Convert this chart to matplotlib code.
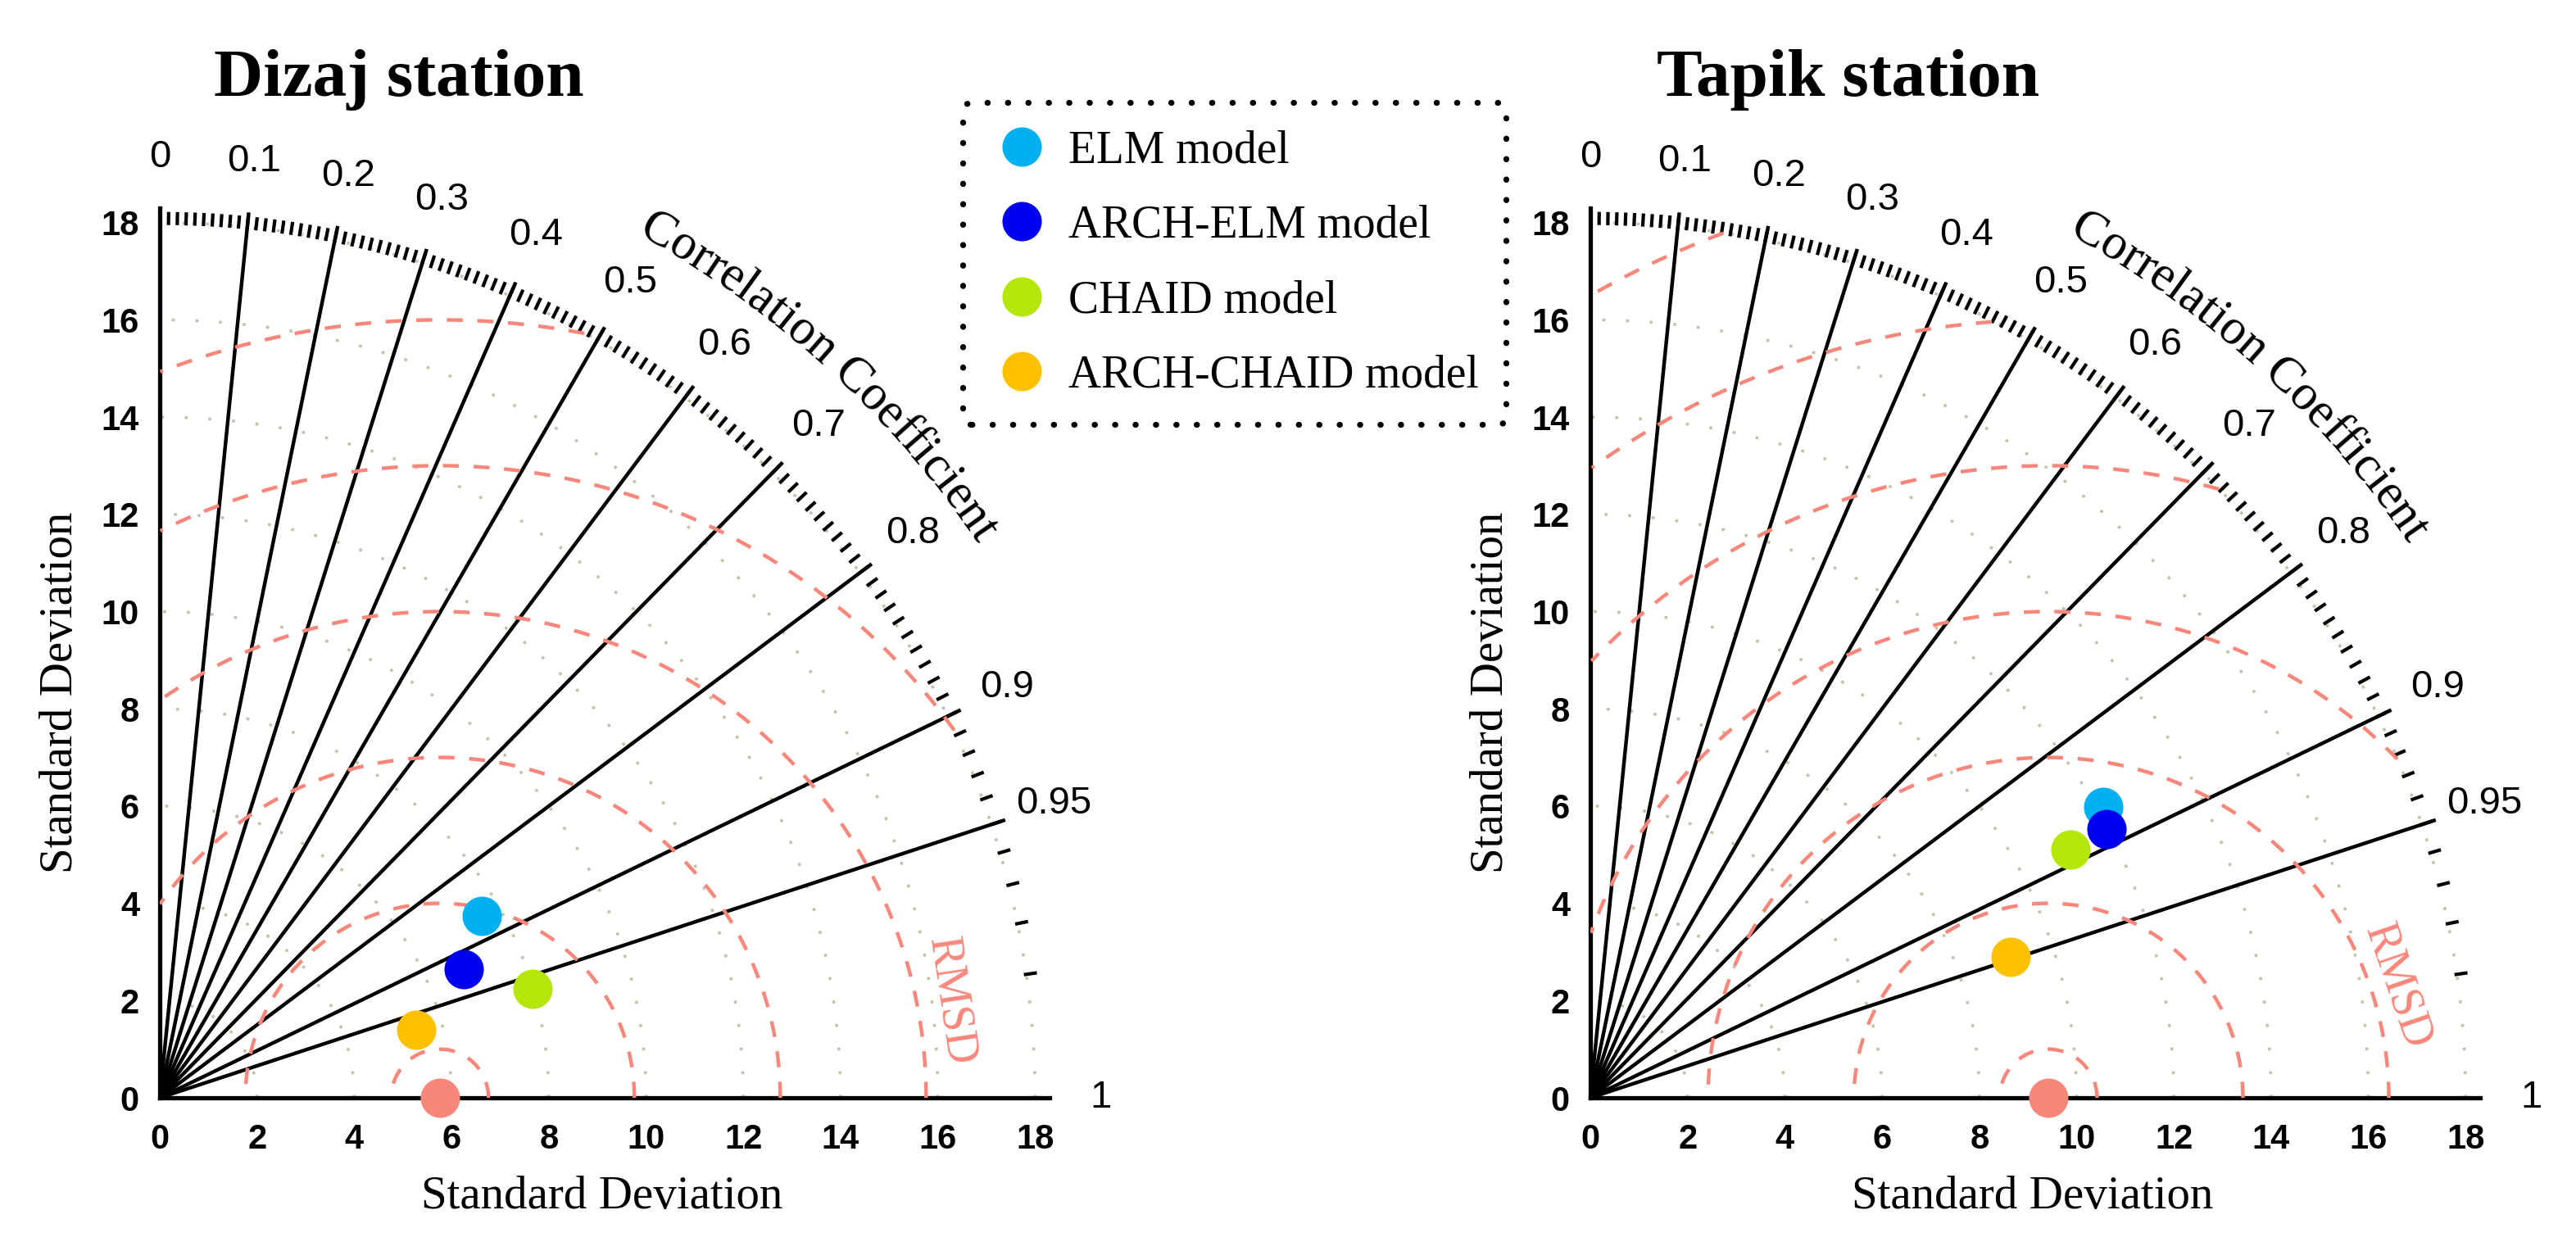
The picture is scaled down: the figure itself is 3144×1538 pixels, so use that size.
import numpy as np
import matplotlib.pyplot as plt
from matplotlib.lines import Line2D
from matplotlib.font_manager import FontProperties

plt.rcParams['font.family'] = 'Liberation Sans'

# values
models = ['ELM model', 'ARCH-ELM model', 'CHAID model', 'ARCH-CHAID model']
colors = ['#00b0f0', '#0000f0', '#b4e60a', '#ffc000']
ref_color = '#f8877b'
rmsd_color = '#f8877b'

dizaj_ref_std = 5.76
dizaj_std = [7.60, 6.78, 7.98, 5.46]
dizaj_corr = [0.871, 0.921, 0.960, 0.967]

tapik_ref_std = 9.42
tapik_std = [12.12, 11.97, 11.12, 9.11]
tapik_corr = [0.870, 0.887, 0.888, 0.948]

std_ticks = [0, 2, 4, 6, 8, 10, 12, 14, 16, 18]
corr_major = [0.1, 0.2, 0.3, 0.4, 0.5, 0.6, 0.7, 0.8, 0.9, 0.95]
corr_labels = ['0', '0.1', '0.2', '0.3', '0.4', '0.5', '0.6', '0.7', '0.8', '0.9', '0.95', '1']
corr_label_vals = [0, 0.1, 0.2, 0.3, 0.4, 0.5, 0.6, 0.7, 0.8, 0.9, 0.95, 1]
rmsd_levels = [1, 4, 7, 10, 13, 16, 19]
std_grid = [2, 4, 6, 8, 10, 12, 14, 16, 18]

W, H = 3144, 1538
unit = 59.35   # pixels per std unit
span = 20.0
rmax = 18.0

fig = plt.figure(figsize=(W / 100, H / 100), dpi=100)
renderer = fig.canvas.get_renderer()
serif = 'Liberation Serif'


def curved_text(ax, text, r, theta_start, size):
    fp = FontProperties(family=serif, size=size)
    for i, ch in enumerate(text):
        if ch == ' ':
            continue
        w_pre = renderer.get_text_width_height_descent(text[:i + 1], fp, ismath=False)[0]
        w_ch = renderer.get_text_width_height_descent(ch, fp, ismath=False)[0]
        s = (w_pre - w_ch / 2) / unit
        th = theta_start - s / r
        ax.text(r * np.cos(th), r * np.sin(th), ch, fontproperties=fp,
                rotation=np.degrees(th) - 90, rotation_mode='anchor',
                ha='center', va='baseline')


def taylor(ox, oy, ref_std, std, corr, title, title_x, rmsd_pos, rmsd_rot):
    ax = fig.add_axes([ox / W, (H - oy) / H, span * unit / W, span * unit / H])
    ax.set_xlim(0, span)
    ax.set_ylim(0, span)

    for s in ['top', 'right']:
        ax.spines[s].set_visible(False)
    for s in ['left', 'bottom']:
        ax.spines[s].set_bounds(0, 18.3)
        ax.spines[s].set_linewidth(3.8)
    ax.set_xticks(std_ticks)
    ax.set_yticks(std_ticks)
    ax.tick_params(length=0, labelsize=30)
    ax.tick_params(axis='x', pad=22)
    ax.tick_params(axis='y', pad=18)
    for lab in ax.get_xticklabels() + ax.get_yticklabels():
        lab.set_fontweight('bold')

    # grey std arcs
    t = np.linspace(0, np.pi / 2, 300)
    for r in std_grid:
        ax.plot(r * np.cos(t), r * np.sin(t), color='#c6c1ab', lw=2.6,
                linestyle=(0, (1, 7)), zorder=1)

    # radial correlation lines
    for c in corr_major:
        th = np.arccos(c)
        ax.plot([0, 18.3 * np.cos(th)], [0, 18.3 * np.sin(th)], color='black',
                lw=3.2, zorder=2, solid_capstyle='butt')

    # minor correlation ticks forming the outer arc
    for k in range(1, 100):
        th = np.arccos(k / 100)
        ax.plot([17.95 * np.cos(th), 18.22 * np.cos(th)],
                [17.95 * np.sin(th), 18.22 * np.sin(th)], color='black',
                lw=3.0, zorder=2, solid_capstyle='butt', clip_on=False)

    # correlation labels
    for lab, c in zip(corr_labels, corr_label_vals):
        th = np.arccos(c)
        ax.text(19.35 * np.cos(th), 19.35 * np.sin(th), lab, fontsize=34,
                ha='center', va='center')

    # RMSD arcs around the reference point
    phi = np.linspace(0, np.pi, 800)
    for rr in rmsd_levels:
        x = ref_std + rr * np.cos(phi)
        y = rr * np.sin(phi)
        keep = (x >= 0) & (np.hypot(x, y) <= rmax)
        x = np.where(keep, x, np.nan)
        y = np.where(keep, y, np.nan)
        ax.plot(x, y, color=rmsd_color, lw=3.2, linestyle=(0, (4.4, 4.0)),
                zorder=3, solid_capstyle='butt')
    ax.text(rmsd_pos[0], rmsd_pos[1], 'RMSD', color=rmsd_color, family=serif,
            fontsize=40, rotation=rmsd_rot, ha='center', va='center')

    # models and reference
    for s, c, col in zip(std, corr, colors):
        th = np.arccos(c)
        ax.plot(s * np.cos(th), s * np.sin(th), 'o', color=col, markersize=34.6,
                markeredgewidth=0, zorder=5)
    ax.plot(ref_std, 0, 'o', color=ref_color, markersize=34.6,
            markeredgewidth=0, zorder=6, clip_on=False)

    curved_text(ax, 'Correlation Coefficient', 20.3, np.radians(61.1), 44)

    ax.set_xlabel('Standard Deviation', family=serif, fontsize=41)
    ax.xaxis.set_label_coords(9.1 / span, -0.08)
    ax.set_ylabel('Standard Deviation', family=serif, fontsize=41)
    ax.yaxis.set_label_coords(-95 / (span * unit), 8.33 / span)

    fig.text(title_x / W, 1 - 117 / H, title, family=serif, fontsize=60,
             fontweight='bold', ha='center', va='baseline')
    return ax


taylor(195, 1340, dizaj_ref_std, dizaj_std, dizaj_corr, 'Dizaj station', 487,
       (16.27, 1.99), -81.5)
taylor(1941, 1340, tapik_ref_std, tapik_std, tapik_corr, 'Tapik station', 2256,
       (16.6, 2.3), -71)

handles = [Line2D([], [], marker='o', ls='none', color=c, markersize=34.6,
                  markeredgewidth=0) for c in colors]
leg = fig.legend(handles, models, loc='upper left',
                 bbox_to_anchor=(1175 / W, 1 - 125 / H),
                 prop={'family': serif, 'size': 40},
                 borderpad=0.6, handlelength=1.4, handletextpad=0.32,
                 labelspacing=0.71, borderaxespad=0, fancybox=True, framealpha=1)
frame = leg.get_frame()
frame.set_edgecolor('black')
frame.set_linewidth(5.2)
frame.set_linestyle((0, (0.05, 3.4)))
frame.set_capstyle('round')

fig.savefig('out.png', dpi=100)
